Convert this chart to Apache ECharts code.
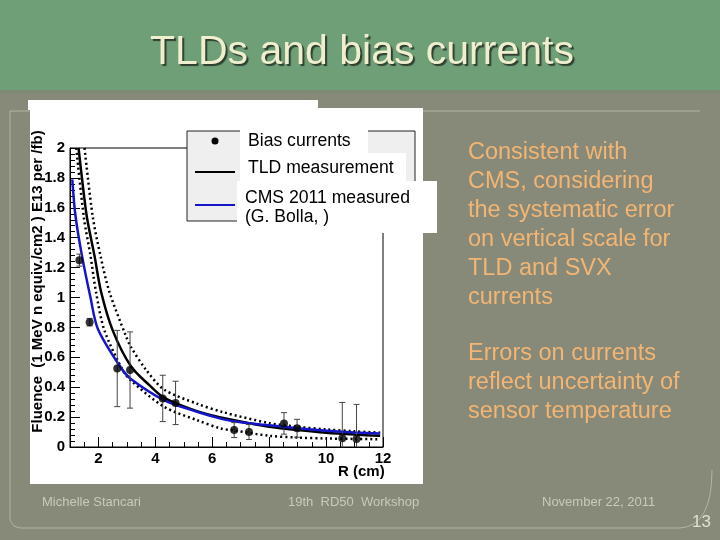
<!DOCTYPE html>
<html>
<head>
<meta charset="utf-8">
<script src="https://cdn.jsdelivr.net/npm/echarts@6/dist/echarts.min.js"></script>
<style>
    html, body { margin: 0; padding: 0; background: #878a78; }
    #chart { width: 720px; height: 540px; }
</style>
</head>
<body>
<div id="chart"></div>
<script>
// 坐标轴刻度
const xTickLabels = [2, 4, 6, 8, 10, 12];

// Bias currents 测量点 (R, fluence, error)
const biasR = [1.33, 1.69, 2.66, 3.11, 4.26, 4.71, 6.77, 7.29, 8.52, 8.98, 10.57, 11.07];
const biasV = [1.25, 0.835, 0.525, 0.515, 0.325, 0.295, 0.113, 0.10, 0.158, 0.125, 0.058, 0.053];
const biasErr = [0.04, 0.025, 0.255, 0.255, 0.155, 0.145, 0.05, 0.05, 0.072, 0.06, 0.24, 0.232];

// TLD measurement 曲线
const tldR = [1.30, 1.45, 1.6, 1.86, 2.09, 2.5, 3.14, 3.78, 4.3, 5.46, 6.6, 8.0, 9.0, 10.0, 11.0, 11.9];
const tldV = [2.0, 1.75, 1.53, 1.28, 1.04, 0.78, 0.54, 0.415, 0.33, 0.24, 0.185, 0.135, 0.113, 0.095, 0.083, 0.075];

// TLD 误差带 (下 / 上)
const tldLowR = [1.22, 1.49, 1.72, 1.92, 2.21, 2.85, 3.14, 4.3, 5.46, 6.28, 6.8, 8.0, 9.0, 10.0, 11.0, 11.9];
const tldLowV = [2.0, 1.53, 1.28, 1.03, 0.78, 0.515, 0.445, 0.27, 0.18, 0.125, 0.11, 0.075, 0.063, 0.057, 0.054, 0.052];
const tldHighR = [1.51, 1.80, 2.07, 2.38, 2.97, 3.14, 3.66, 4.3, 5.46, 6.4, 8.0, 9.0, 10.0, 11.0, 11.9];
const tldHighV = [2.0, 1.54, 1.28, 1.04, 0.74, 0.67, 0.52, 0.385, 0.29, 0.232, 0.16, 0.135, 0.118, 0.105, 0.096];

// CMS 2011 曲线
const cmsR = [1.08, 1.19, 1.42, 1.72, 1.98, 2.79, 3.14, 4.3, 5.46, 6.4, 7.0, 8.0, 9.0, 10.0, 11.0, 11.9];
const cmsV = [1.79, 1.55, 1.28, 1.0, 0.79, 0.53, 0.455, 0.314, 0.236, 0.185, 0.165, 0.145, 0.125, 0.108, 0.097, 0.09];

const pairs = (xs, ys) => xs.map((x, i) => [x, ys[i]]);

const FONT = "'Liberation Sans', Arial, sans-serif";
const chart = echarts.init(document.getElementById('chart'));

const borderStyle = { fill: 'none', stroke: 'rgba(215,215,195,0.55)', lineWidth: 1 };

const option = {
    backgroundColor: '#878a78',
    animation: false,
    grid: {
        left: 70, top: 148, width: 313, height: 299,
        show: true, borderColor: '#000', borderWidth: 1,
        backgroundColor: '#fff'
    },
    xAxis: [
        {
            type: 'value', min: 1, max: 12, interval: 0.5,
            name: 'R (cm)', nameLocation: 'end', nameGap: -45, nameMoveOverlap: false,
            nameTextStyle: { fontFamily: FONT, fontWeight: 'bold', fontSize: 15, color: '#000',
                verticalAlign: 'top', padding: [17, 0, 0, 0] },
            axisLine: { lineStyle: { color: '#000', width: 1 } },
            axisTick: { inside: true, length: 5, lineStyle: { color: '#000' } },
            axisLabel: { customValues: xTickLabels, margin: 4, fontFamily: FONT, fontWeight: 'bold', fontSize: 15, color: '#000' },
            splitLine: { show: false }
        },
        {
            // 主刻度（长），放到底边
            type: 'value', min: 1, max: 12, interval: 0.5,
            position: 'top', offset: -299,
            axisLine: { show: false },
            axisTick: { customValues: xTickLabels, inside: false, length: 10, lineStyle: { color: '#000' } },
            axisLabel: { show: false },
            splitLine: { show: false }
        }
    ],
    yAxis: {
        type: 'value', min: 0, max: 2, interval: 0.2,
        name: 'Fluence  (1 MeV n equiv./cm2 ) E13 per /fb)',
        nameLocation: 'middle', nameGap: 25, nameMoveOverlap: false,
        nameTextStyle: { fontFamily: FONT, fontWeight: 'bold', fontSize: 15, color: '#000', padding: [0, 0, 0, 32] },
        axisLine: { lineStyle: { color: '#000', width: 1 } },
        axisTick: { inside: true, length: 10, lineStyle: { color: '#000' } },
        minorTick: { show: true, splitNumber: 5, length: 5, lineStyle: { color: '#000' } },
        axisLabel: { margin: 5, fontFamily: FONT, fontWeight: 'bold', fontSize: 15, color: '#000' },
        splitLine: { show: false }
    },
    series: [
        {
            name: 'TLD low', type: 'line', data: pairs(tldLowR, tldLowV),
            smooth: 0.3, showSymbol: false, clip: true,
            lineStyle: { color: '#000', width: 2.5, type: [2, 3] }
        },
        {
            name: 'TLD high', type: 'line', data: pairs(tldHighR, tldHighV),
            smooth: 0.3, showSymbol: false, clip: true,
            lineStyle: { color: '#000', width: 2.5, type: [2, 3] }
        },
        {
            name: 'TLD measurement', type: 'line', data: pairs(tldR, tldV),
            smooth: 0.3, showSymbol: false, clip: true,
            lineStyle: { color: '#000', width: 2.5 }
        },
        {
            name: 'CMS 2011 measured', type: 'line', data: pairs(cmsR, cmsV),
            smooth: 0.3, showSymbol: false, clip: true,
            lineStyle: { color: '#1515c8', width: 2.5 }
        },
        {
            // 误差棒
            name: 'errors', type: 'custom', clip: true, z: 5,
            data: biasR.map((r, i) => [r, biasV[i], biasErr[i]]),
            renderItem: (params, api) => {
                const x = api.value(0), v = api.value(1), e = api.value(2);
                const top = api.coord([x, v + e]);
                const bot = api.coord([x, Math.max(0, v - e)]);
                const style = { stroke: '#444', lineWidth: 1 };
                const cap = 3;
                const children = [
                    { type: 'line', shape: { x1: top[0], y1: top[1], x2: bot[0], y2: bot[1] }, style },
                    { type: 'line', shape: { x1: top[0] - cap, y1: top[1], x2: top[0] + cap, y2: top[1] }, style }
                ];
                if (v - e > 0) {
                    children.push({ type: 'line', shape: { x1: bot[0] - cap, y1: bot[1], x2: bot[0] + cap, y2: bot[1] }, style });
                }
                return { type: 'group', children };
            }
        },
        {
            name: 'Bias currents', type: 'scatter', z: 6,
            data: pairs(biasR, biasV),
            symbol: 'circle', symbolSize: 8,
            itemStyle: { color: '#000' }
        }
    ],
    graphic: [
        // 幻灯片背景
        { type: 'rect', z: -10, silent: true, shape: { x: 0, y: 0, width: 720, height: 90 }, style: { fill: '#6e9f77' } },
        { type: 'rect', z: -10, silent: true, shape: { x: 0, y: 90, width: 720, height: 3 }, style: { fill: '#7d8a74' } },
        { type: 'polyline', z: -9, silent: true,
          shape: { points: [[700, 111], [10, 111], [10, 520], [14, 526], [20, 528], [680, 528]] }, style: borderStyle },
        { type: 'bezierCurve', z: -9, silent: true,
          shape: { x1: 680, y1: 528, cpx1: 712, cpy1: 526, x2: 712, y2: 470 }, style: borderStyle },
        { type: 'rect', z: -8, silent: true, shape: { x: 28, y: 100, width: 290, height: 10 }, style: { fill: '#fff' } },
        { type: 'rect', z: -8, silent: true, shape: { x: 30, y: 108, width: 393, height: 376 }, style: { fill: '#fff' } },

        // 标题
        { type: 'text', x: 362, y: 53, silent: true,
          style: { text: 'TLDs and bias currents', font: '41px ' + FONT, fill: '#efefcf',
                   textAlign: 'center', textVerticalAlign: 'middle',
                   textShadowColor: '#2f3f2f', textShadowOffsetX: 2, textShadowOffsetY: 2, textShadowBlur: 1 } },

        // 右侧说明
        { type: 'text', x: 468, y: 138.5, silent: true,
          style: { text: 'Consistent with\nCMS, considering\nthe systematic error\non vertical scale for\nTLD and SVX\ncurrents',
                   font: '23.5px ' + FONT, fill: '#f3b573', lineHeight: 29, textVerticalAlign: 'top' } },
        { type: 'text', x: 468, y: 339.5, silent: true,
          style: { text: 'Errors on currents\nreflect uncertainty of\nsensor temperature',
                   font: '23.5px ' + FONT, fill: '#f3b573', lineHeight: 29, textVerticalAlign: 'top' } },

        // 页脚
        { type: 'text', x: 42, y: 502, silent: true,
          style: { text: 'Michelle Stancari', font: '13px ' + FONT, fill: '#c9cab9', textVerticalAlign: 'middle' } },
        { type: 'text', x: 288, y: 502, silent: true,
          style: { text: '19th  RD50  Workshop', font: '13px ' + FONT, fill: '#c9cab9', textVerticalAlign: 'middle' } },
        { type: 'text', x: 542, y: 502, silent: true,
          style: { text: 'November 22, 2011', font: '13px ' + FONT, fill: '#c9cab9', textVerticalAlign: 'middle' } },
        { type: 'text', x: 692, y: 522, silent: true,
          style: { text: '13', font: '17px ' + FONT, fill: '#e0e0d0', textVerticalAlign: 'middle' } },

        // 图例
        { type: 'rect', z: 100, shape: { x: 187, y: 131, width: 228, height: 90 }, style: { fill: '#efefef', stroke: '#222', lineWidth: 1 } },
        { type: 'rect', z: 101, shape: { x: 240, y: 125, width: 128, height: 28 }, style: { fill: '#fff' } },
        { type: 'rect', z: 101, shape: { x: 240, y: 153, width: 166, height: 28 }, style: { fill: '#fff' } },
        { type: 'rect', z: 101, shape: { x: 237, y: 181, width: 200, height: 52 }, style: { fill: '#fff' } },
        { type: 'circle', z: 102, shape: { cx: 215, cy: 141, r: 3.5 }, style: { fill: '#000' } },
        { type: 'line', z: 102, shape: { x1: 195, y1: 172, x2: 235, y2: 172 }, style: { stroke: '#000', lineWidth: 2 } },
        { type: 'line', z: 102, shape: { x1: 195, y1: 205, x2: 235, y2: 205 }, style: { stroke: '#1515c8', lineWidth: 2 } },
        { type: 'text', z: 102, x: 248, y: 141, style: { text: 'Bias currents', font: '17.6px ' + FONT, fill: '#000', textVerticalAlign: 'middle' } },
        { type: 'text', z: 102, x: 248, y: 168, style: { text: 'TLD measurement', font: '17.6px ' + FONT, fill: '#000', textVerticalAlign: 'middle' } },
        { type: 'text', z: 102, x: 245, y: 198, style: { text: 'CMS 2011 measured', font: '17.6px ' + FONT, fill: '#000', textVerticalAlign: 'middle' } },
        { type: 'text', z: 102, x: 245, y: 217, style: { text: '(G. Bolla, )', font: '17.6px ' + FONT, fill: '#000', textVerticalAlign: 'middle' } }
    ]
};

chart.setOption(option);
</script>
</body>
</html>
